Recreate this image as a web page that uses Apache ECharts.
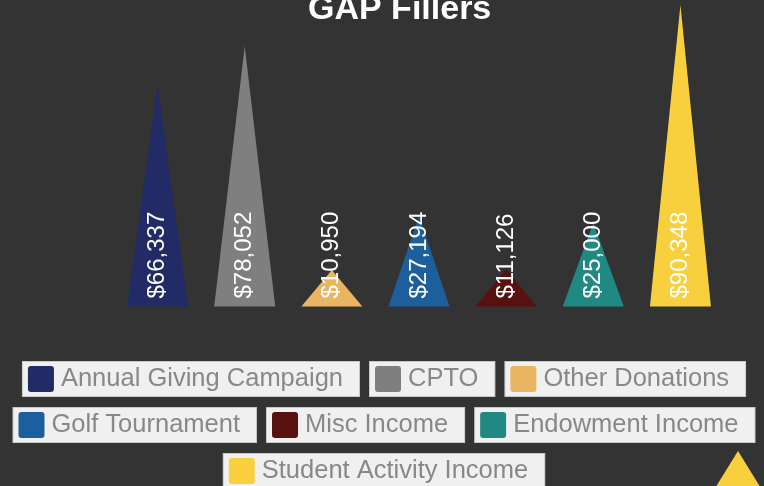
<!DOCTYPE html>
<html>
<head>
    <meta charset="UTF-8">
    <title>GAP Fillers</title>
    <style>
        html, body {margin: 0; padding: 0; background: #333333;}
        #main {width: 764px; height: 486px;}
    </style>
</head>
<body>
<div id="main"></div>
<script src="https://cdn.jsdelivr.net/npm/echarts@6/dist/echarts.min.js"></script>
<script>
    // 数据
    var categories = ['Annual Giving Campaign', 'CPTO', 'Other Donations', 'Golf Tournament',
        'Misc Income', 'Endowment Income', 'Student Activity Income'];
    var values = [66337, 78052, 10950, 27194, 11126, 25000, 90348];
    var colors = ['#222b66', '#7f7f7f', '#e9b563', '#1d5e9c', '#581111', '#218983', '#f8d03d'];
    // legend rows
    var legendRows = [
        ['Annual Giving Campaign', 'CPTO', 'Other Donations'],
        ['Golf Tournament', 'Misc Income', 'Endowment Income'],
        ['Student Activity Income']
    ];
    var legendTops = [361, 407, 453];

    function money(v) {
        return '$' + String(v).replace(/\B(?=(\d{3})+(?!\d))/g, ',');
    }

    var rich = {};
    colors.forEach(function (c, i) {
        rich['c' + i] = {width: 26, height: 26, backgroundColor: c, borderRadius: 3};
    });
    rich.t = {fontSize: 25.5, color: '#888888', padding: [0, 0, 0, 7], fontFamily: 'Liberation Sans, Arial'};

    var series = categories.map(function (name, i) {
        var d = categories.map(function (c, j) { return j === i ? values[i] : '-'; });
        return {
            name: name,
            type: 'pictorialBar',
            symbol: 'triangle',
            symbolSize: ['100%', '100%'],
            barWidth: 61,
            barGap: '-100%',
            itemStyle: {color: colors[i]},
            label: {
                show: true,
                position: 'insideBottom',
                distance: 8,
                rotate: 90,
                align: 'left',
                verticalAlign: 'middle',
                color: '#ffffff',
                fontSize: 24,
                fontFamily: 'Liberation Sans, Arial',
                formatter: function (p) { return money(p.value); }
            },
            data: d
        };
    });

    var legends = legendRows.map(function (row, r) {
        return {
            data: row,
            top: legendTops[r],
            left: 'center',
            padding: 0,
            itemGap: 5,
            itemWidth: 0,
            itemHeight: 0,
            formatter: function (name) {
                return '{c' + categories.indexOf(name) + '|}{t|' + name + '}';
            },
            textStyle: {
                backgroundColor: '#f0f0f0',
                borderColor: '#c8c8c8',
                borderWidth: 1,
                padding: [4, 16, 4, 5],
                rich: rich
            }
        };
    });

    var myChart = echarts.init(document.getElementById('main'));
    var option = {
        backgroundColor: '#333333',
        title: {
            text: 'GAP Fillers',
            left: 308,
            top: -7,
            padding: 0,
            textStyle: {
                color: '#ffffff',
                fontSize: 34,
                fontWeight: 'bold',
                fontFamily: 'Liberation Sans, Arial'
            }
        },
        legend: legends,
        grid: {left: 114, right: 40, top: 5, bottom: 179.5},
        xAxis: {
            type: 'category',
            data: categories,
            show: false
        },
        yAxis: {
            type: 'value',
            min: 0,
            max: 'dataMax',
            show: false
        },
        graphic: [{
            type: 'polygon',
            shape: {points: [[738, 451], [709, 498], [767, 498]]},
            style: {fill: '#f8d03d'}
        }],
        series: series
    };
    myChart.setOption(option);
</script>
</body>
</html>
